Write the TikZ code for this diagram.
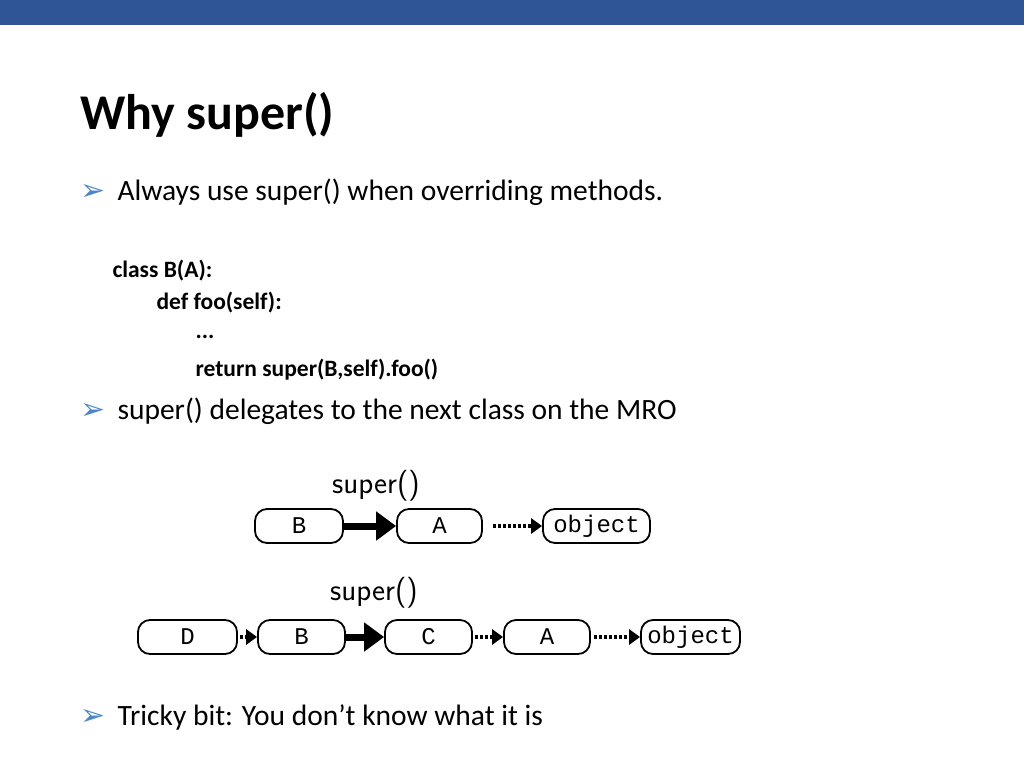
\documentclass[tikz,border=0pt]{standalone}
\usepackage{fontspec}
\setmainfont{Carlito}
\newfontfamily\dejavu{DejaVu Sans}
\newfontfamily\monof{Liberation Mono}
\usetikzlibrary{arrows.meta}
\definecolor{topblue}{HTML}{2F5597}
\definecolor{bulblue}{HTML}{4A86C8}
\tikzset{
 cls/.style={draw,line width=1.8pt,rounded corners=12pt,minimum height=34pt,font=\monof\fontsize{24}{24}\selectfont,inner sep=0pt},
 strong/.style={line width=7pt,-{Triangle[length=20pt,width=28pt]}},
 weak/.style={line width=4pt,dash pattern=on 3pt off 2pt,-{Triangle[length=11pt,width=15pt]}},
 lbl/.style={font=\fontsize{31}{31}\selectfont\sffamily},
 bul/.style={anchor=west,font=\fontsize{29.5}{29.5}\selectfont},
 bmark/.style={text=bulblue,font=\dejavu\fontsize{30}{30}\selectfont},
 code/.style={anchor=west,font=\fontsize{23.5}{23.5}\selectfont\bfseries}
}
\begin{document}
\begin{tikzpicture}[x=1pt,y=-1pt]
\useasboundingbox (0,0) rectangle (1024,768);
\fill[topblue] (0,0) rectangle (1024,25);
\node[anchor=west,font=\fontsize{50}{50}\selectfont\bfseries] (title) at (77,115) {Why super()};
\node[bmark] (b1) at (93,192) {➢};
\node[bul] (t1) at (114,192) {Always use super() when overriding methods.};
\node[code] (c1) at (109,271) {class B(A):};
\node[code] (c2) at (153,303) {def foo(self):};
\node[code] (c3) at (192,337) {...};
\node[code] (c4) at (192,370) {return super(B,self).foo()};
\node[bmark] (b2) at (93,411) {➢};
\node[bul] (t2) at (114,411) {super() delegates to the next class on the MRO};
\node[bmark] (b3) at (93,717) {➢};
\node[bul] (t3) at (114,717) {Tricky bit: You don{\char"0027}t know what it is};
% row 1
\node[cls,minimum width=88pt] (rB) at (299,526) {B};
\node[cls,minimum width=85pt] (rA) at (439.5,526) {A};
\node[cls,minimum width=107pt] (rO) at (596.5,526) {object};
\draw[strong] (rB) -- (rA);
\draw[weak] ([xshift=10pt]rA.east) -- (rO);
\node[lbl] (s1) at (376,486) {super()};
% row 2
\node[cls,minimum width=99pt] (qD) at (187.5,637) {D};
\node[cls,minimum width=87pt] (qB) at (301.5,637) {B};
\node[cls,minimum width=87pt] (qC) at (428.5,637) {C};
\node[cls,minimum width=86pt] (qA) at (547,637) {A};
\node[cls,minimum width=99pt] (qO) at (690.5,637) {object};
\draw[weak] ([xshift=2pt]qD.east) -- (qB);
\draw[strong] (qB) -- (qC);
\draw[weak] ([xshift=2pt]qC.east) -- (qA);
\draw[weak] ([xshift=3pt]qA.east) -- (qO);
\node[lbl] (s2) at (374,593) {super()};
\end{tikzpicture}
\end{document}
